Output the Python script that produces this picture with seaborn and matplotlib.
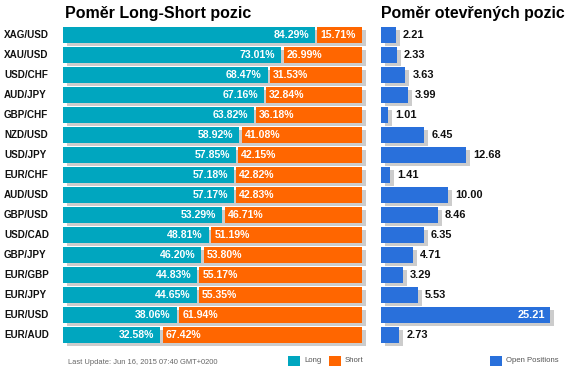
import matplotlib
matplotlib.use("Agg")
import matplotlib.pyplot as plt
import matplotlib.transforms as mtransforms
from matplotlib.patches import Rectangle
import seaborn as sns
import pandas as pd

pairs = ["XAG/USD", "XAU/USD", "USD/CHF", "AUD/JPY", "GBP/CHF", "NZD/USD", "USD/JPY",
         "EUR/CHF", "AUD/USD", "GBP/USD", "USD/CAD", "GBP/JPY", "EUR/GBP", "EUR/JPY",
         "EUR/USD", "EUR/AUD"]
long_pct = [84.29, 73.01, 68.47, 67.16, 63.82, 58.92, 57.85, 57.18, 57.17, 53.29,
            48.81, 46.20, 44.83, 44.65, 38.06, 32.58]
short_pct = [15.71, 26.99, 31.53, 32.84, 36.18, 41.08, 42.15, 42.82, 42.83, 46.71,
             51.19, 53.80, 55.17, 55.35, 61.94, 67.42]
open_pos = [2.21, 2.33, 3.63, 3.99, 1.01, 6.45, 12.68, 1.41, 10.00, 8.46, 6.35, 4.71,
            3.29, 5.53, 25.21, 2.73]

title_left = "Poměr Long-Short pozic"
title_right = "Poměr otevřených pozic"
footer = "Last Update: Jun 16, 2015 07:40 GMT+0200"
legend_labels = ["Long", "Short", "Open Positions"]

C_LONG = "#00A6BF"
C_SHORT = "#FF6600"
C_OPEN = "#2970DB"
C_SHADOW = "#CCCCCC"

sns.set_style("white")
plt.rcParams["font.family"] = ["Liberation Sans", "DejaVu Sans"]

W, H = 579, 383
fig = plt.figure(figsize=(W / 100, H / 100), dpi=100)

def fx(px):
    return px / W

def fy(py):
    return (H - py) / H

df = pd.DataFrame({"pair": pairs, "long": long_pct, "short": short_pct, "open": open_pos})
df["total"] = df["long"] + df["short"]
gap = 0.8
df["short_left"] = df["long"] + gap
df["short_w"] = df["total"] - df["short_left"]

top_px, bot_px = 25, 345
ax1 = fig.add_axes([fx(63), fy(bot_px), fx(362) - fx(63), (bot_px - top_px) / H])
ax2 = fig.add_axes([fx(381), fy(bot_px), 26 * 6.70 / W, (bot_px - top_px) / H])

shadow_off = mtransforms.ScaledTranslation(4 / 100, -3 / 100, fig.dpi_scale_trans)
bar_kw = dict(orient="h", width=0.8, errorbar=None, saturation=1, linewidth=0,
              edgecolor="none")

# Left panel
sns.barplot(data=df, x="total", y="pair", color=C_SHADOW, ax=ax1, **bar_kw)
for p in ax1.containers[0]:
    p.set_transform(ax1.transData + shadow_off)
    p.set_clip_on(False)
    p.set_zorder(1)
sns.barplot(data=df, x="long", y="pair", color=C_LONG, ax=ax1, zorder=2, **bar_kw)
sns.barplot(data=df, x="short_w", y="pair", color=C_SHORT, ax=ax1, zorder=2,
            left=df["short_left"].values, **bar_kw)

# Right panel
sns.barplot(data=df, x="open", y="pair", color=C_SHADOW, ax=ax2, **bar_kw)
for p in ax2.containers[0]:
    p.set_transform(ax2.transData + shadow_off)
    p.set_clip_on(False)
    p.set_zorder(1)
sns.barplot(data=df, x="open", y="pair", color=C_OPEN, ax=ax2, zorder=2, **bar_kw)

for ax in (ax1, ax2):
    ax.set_ylim(len(pairs) - 0.5, -0.5)
    ax.set_axis_off()
ax1.set_xlim(0, 100)
ax2.set_xlim(0, 26)

lbl_tr = mtransforms.blended_transform_factory(fig.transFigure, ax1.transData)
px_pt = 72 / 100
for i, row in df.iterrows():
    ax1.text(fx(4), i, row["pair"], transform=lbl_tr, ha="left", va="center",
             fontsize=7.1, fontweight="bold", color="#111111")
    ax1.annotate(f"{row['long']:.2f}%", (row["long"], i), xytext=(-6 * px_pt, 0),
                 textcoords="offset points", ha="right", va="center",
                 fontsize=7.6, fontweight="bold", color="white", zorder=3)
    ax1.annotate(f"{row['short']:.2f}%", (row["short_left"], i), xytext=(3 * px_pt, 0),
                 textcoords="offset points", ha="left", va="center",
                 fontsize=7.6, fontweight="bold", color="white", zorder=3)
    v = row["open"]
    if v > 20:
        ax2.annotate(f"{v:.2f}", (v, i), xytext=(-5 * px_pt, 0), textcoords="offset points",
                     ha="right", va="center", fontsize=7.9, fontweight="bold",
                     color="white", zorder=3)
    else:
        ax2.annotate(f"{v:.2f}", (v, i), xytext=(7 * px_pt, 0), textcoords="offset points",
                     ha="left", va="center", fontsize=7.9, fontweight="bold",
                     color="#111111", zorder=3)

fig.text(fx(65), fy(18), title_left, ha="left", va="baseline", fontsize=11.5,
         fontweight="bold", color="black")
fig.text(fx(381), fy(18), title_right, ha="left", va="baseline", fontsize=11.4,
         fontweight="bold", color="black")

fig.text(fx(68), fy(362), footer, ha="left", va="center", fontsize=5.4, color="#666666")

legend_items = [(288, C_LONG, legend_labels[0]), (329, C_SHORT, legend_labels[1]),
                (490, C_OPEN, legend_labels[2])]
for x0, c, t in legend_items:
    fig.add_artist(Rectangle((fx(x0), fy(366)), 12 / W, 10 / H, transform=fig.transFigure,
                             facecolor=c, edgecolor="none"))
    fig.text(fx(x0 + 16), fy(361), t, ha="left", va="center", fontsize=5.6, color="#555555")

fig.savefig("out.png", dpi=100)
